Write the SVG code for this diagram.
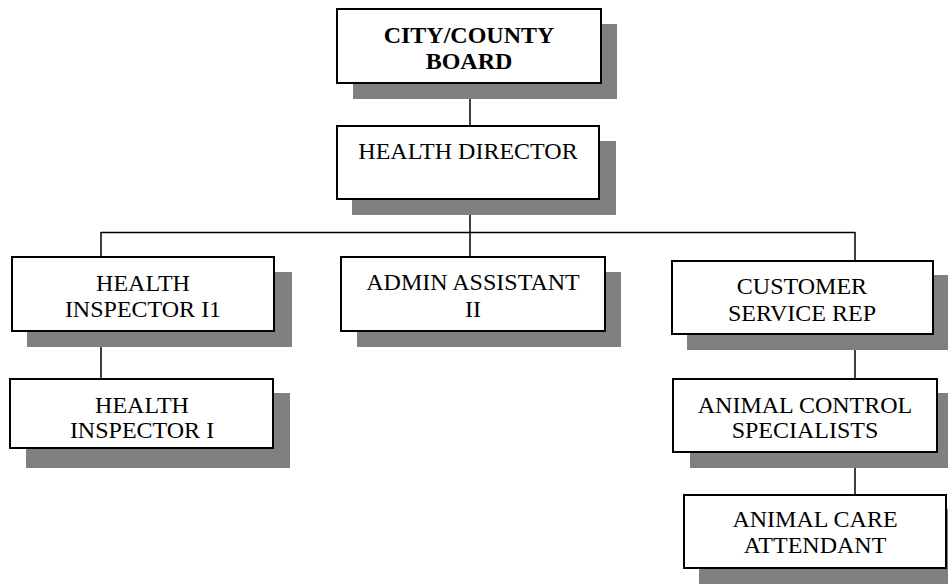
<svg xmlns="http://www.w3.org/2000/svg" width="948" height="584" viewBox="0 0 948 584">
<style>
.shadow{fill:#808080;stroke:none}
.box{fill:#ffffff;stroke:#000000;stroke-width:2}
.conn line{stroke:#000000;stroke-width:1.5}
text{font-family:"Liberation Serif","Times New Roman",serif;font-size:24px;fill:#000000;text-anchor:middle}
.bold{font-weight:bold}
</style>
<rect width="948" height="584" fill="#ffffff"/>
<g id="connectors" class="conn">
<line x1="470" y1="83" x2="470" y2="126"/>
<line x1="470" y1="199" x2="470" y2="257"/>
<line x1="101" y1="232.5" x2="855" y2="232.5"/>
<line x1="101" y1="232" x2="101" y2="257"/>
<line x1="101" y1="331" x2="101" y2="379"/>
<line x1="855" y1="232" x2="855" y2="261"/>
<line x1="855" y1="334" x2="855" y2="379"/>
<line x1="855" y1="452" x2="855" y2="495"/>
</g>
<g id="city-county-board">
<rect class="shadow" x="353" y="24" width="264" height="75"/>
<rect class="box" x="337" y="9" width="264" height="74"/>
<text class="bold" x="469" y="43">CITY/COUNTY</text>
<text class="bold" x="469" y="69">BOARD</text>
</g>
<g id="health-director">
<rect class="shadow" x="352" y="141" width="264" height="74"/>
<rect class="box" x="337" y="126" width="262" height="73"/>
<text x="468" y="159">HEALTH DIRECTOR</text>
</g>
<g id="health-inspector-i1">
<rect class="shadow" x="27" y="272" width="265" height="75"/>
<rect class="box" x="12" y="257" width="262" height="74"/>
<text x="143" y="291">HEALTH</text>
<text x="143" y="317">INSPECTOR I1</text>
</g>
<g id="health-inspector-i">
<rect class="shadow" x="26" y="393" width="264" height="75"/>
<rect class="box" x="10" y="379" width="263" height="69"/>
<text x="142" y="413">HEALTH</text>
<text x="142" y="438">INSPECTOR I</text>
</g>
<g id="admin-assistant-ii">
<rect class="shadow" x="357" y="272" width="264" height="75"/>
<rect class="box" x="341" y="257" width="264" height="74"/>
<text x="473" y="290">ADMIN ASSISTANT</text>
<text x="473" y="317">II</text>
</g>
<g id="customer-service-rep">
<rect class="shadow" x="687" y="275" width="262" height="75"/>
<rect class="box" x="672" y="261" width="261" height="73"/>
<text x="802" y="294">CUSTOMER</text>
<text x="802" y="321">SERVICE REP</text>
</g>
<g id="animal-control-specialists">
<rect class="shadow" x="690" y="393" width="260" height="75"/>
<rect class="box" x="673" y="379" width="264" height="73"/>
<text x="805" y="413">ANIMAL CONTROL</text>
<text x="805" y="438">SPECIALISTS</text>
</g>
<g id="animal-care-attendant">
<rect class="shadow" x="699" y="509" width="251" height="77"/>
<rect class="box" x="684" y="495" width="262" height="73"/>
<text x="815" y="527">ANIMAL CARE</text>
<text x="815" y="553">ATTENDANT</text>
</g>
</svg>
